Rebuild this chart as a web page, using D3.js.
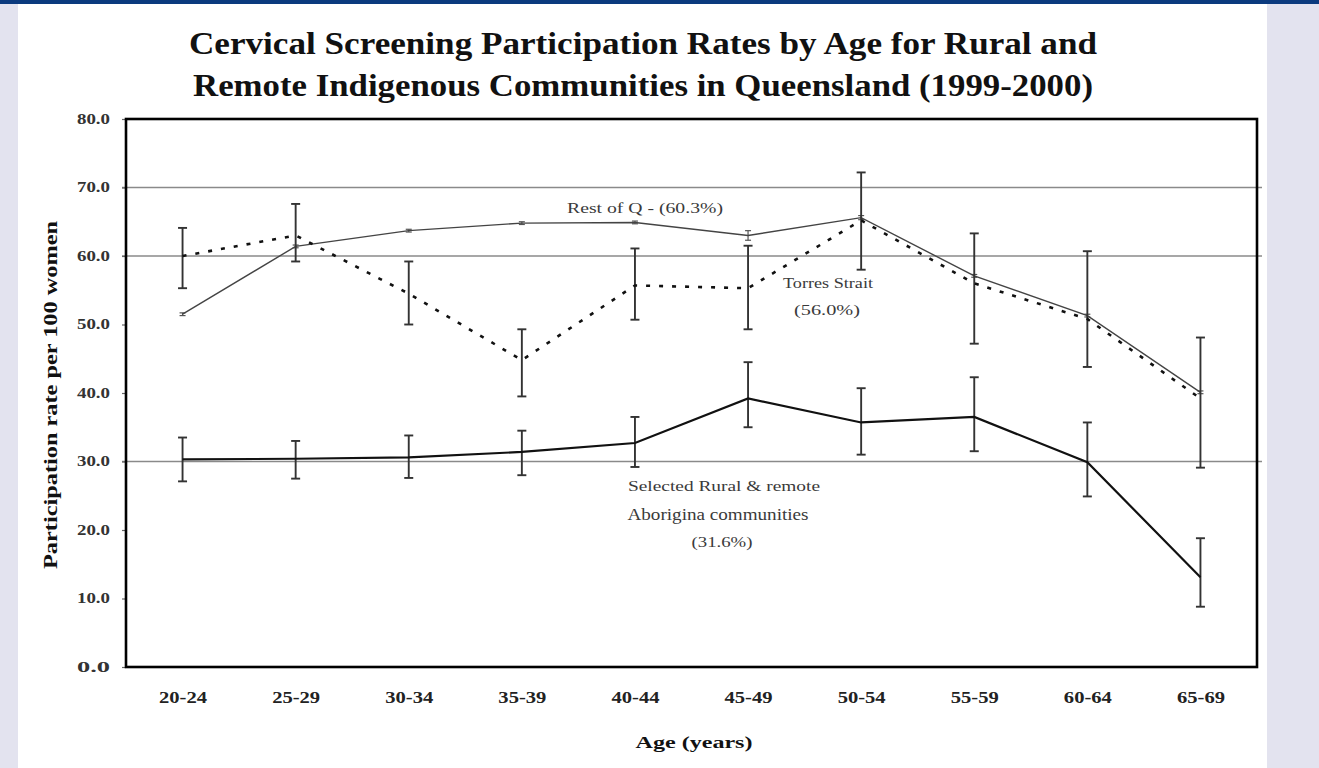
<!DOCTYPE html>
<html>
<head>
<meta charset="utf-8">
<script src="https://cdn.jsdelivr.net/npm/d3@7"></script>
<style>
  html, body { margin: 0; padding: 0; background: #e3e3ef; }
  svg { display: block; }
  text { font-family: "Liberation Serif", "Times New Roman", serif; }
</style>
</head>
<body>
<svg id="chart" width="1319" height="768"></svg>
<script>
// Age groups along the x axis
const ageGroups = ["20-24", "25-29", "30-34", "35-39", "40-44", "45-49", "50-54", "55-59", "60-64", "65-69"];

// Y axis ticks and the horizontal reference lines
const yTicks = [0, 10, 20, 30, 40, 50, 60, 70, 80];
const gridValues = [30, 60, 70];

// Rest of Queensland participation rate (per 100 women) with confidence limits
const restOfQ     = [51.5, 61.4, 63.7, 64.8, 64.9, 63.0, 65.6, 57.1, 51.3, 40.1];
const restOfQLow  = [51.3, 61.2, 63.5, 64.6, 64.7, 62.3, 65.3, 56.9, 51.1, 39.9];
const restOfQHigh = [51.7, 61.6, 63.9, 65.0, 65.1, 63.7, 65.9, 57.3, 51.5, 40.3];

// Torres Strait communities
const torresStrait = [60.0, 63.0, 54.5, 44.8, 55.7, 55.3, 65.2, 56.0, 50.8, 39.2];
const torresLow    = [55.3, 59.2, 50.0, 39.5, 50.7, 49.3, 58.0, 47.2, 43.8, 29.1];
const torresHigh   = [64.1, 67.6, 59.2, 49.3, 61.1, 61.5, 72.2, 63.3, 60.7, 48.1];

// Selected rural & remote Aboriginal communities
const aboriginal     = [30.3, 30.4, 30.6, 31.4, 32.7, 39.2, 35.7, 36.5, 29.9, 13.1];
const aboriginalLow  = [27.1, 27.5, 27.6, 28.0, 29.2, 35.0, 31.0, 31.5, 24.9, 8.8];
const aboriginalHigh = [33.5, 33.0, 33.8, 34.5, 36.5, 44.5, 40.7, 42.3, 35.7, 18.8];

const titleLines = [
  "Cervical Screening Participation Rates by Age for Rural and",
  "Remote Indigenous Communities in Queensland (1999-2000)"
];
const yAxisTitle = "Participation rate per 100 women";
const xAxisTitle = "Age (years)";

// ---- layout ----
const W = 1319, H = 768;
const plot = { left: 126, right: 1257, top: 119, bottom: 667 };

const svg = d3.select("#chart");

// page background: navy strip on top, white panel in the middle
svg.append("rect").attr("x", 0).attr("y", 0).attr("width", W).attr("height", H).attr("fill", "#e3e3ef");
svg.append("rect").attr("x", 18).attr("y", 0).attr("width", 1249).attr("height", H).attr("fill", "#ffffff");
svg.append("rect").attr("x", 0).attr("y", 0).attr("width", W).attr("height", 4).attr("fill", "#0b3a7e");

const x = d3.scalePoint().domain(ageGroups).range([plot.left, plot.right]).padding(0.5);
const y = d3.scaleLinear().domain([0, 80]).range([plot.bottom, plot.top]);

// Stretch a text element to a given width
function fit(sel, w) {
  sel.attr("textLength", w).attr("lengthAdjust", "spacingAndGlyphs");
  return sel;
}

// ---- title ----
const titleLayout = [{ y: 54, w: 908 }, { y: 96, w: 900 }];
titleLines.forEach((t, i) => {
  fit(svg.append("text")
    .attr("x", 643).attr("y", titleLayout[i].y)
    .attr("text-anchor", "middle")
    .attr("font-size", 31).attr("font-weight", "bold").attr("fill", "#111")
    .text(t), titleLayout[i].w);
});

// ---- reference lines ----
svg.append("g").selectAll("line").data(gridValues).join("line")
  .attr("x1", plot.left - 4).attr("x2", plot.right + 5)
  .attr("y1", d => y(d)).attr("y2", d => y(d))
  .attr("stroke", "#8a8a8a").attr("stroke-width", 1.6);

// ---- y axis ----
const yAxis = svg.append("g")
  .attr("transform", `translate(${plot.left},0)`)
  .call(d3.axisLeft(y).tickValues(yTicks).tickFormat(d3.format(".1f")).tickSize(4).tickPadding(12));
yAxis.select(".domain").remove();
yAxis.selectAll(".tick line").attr("stroke", "#666").attr("stroke-width", 1.2);
yAxis.selectAll(".tick text")
  .attr("font-family", "Liberation Serif, serif")
  .attr("font-size", 14).attr("font-weight", "bold").attr("fill", "#333")
  .each(function () { fit(d3.select(this), 33); });

// ---- x axis ----
const xAxis = svg.append("g")
  .attr("transform", `translate(0,${plot.bottom})`)
  .call(d3.axisBottom(x).tickSize(0).tickPadding(25));
xAxis.select(".domain").remove();
xAxis.selectAll(".tick text")
  .attr("font-family", "Liberation Serif, serif")
  .attr("font-size", 16).attr("font-weight", "bold").attr("fill", "#222")
  .each(function () { fit(d3.select(this), 48); });

// ---- plot frame ----
svg.append("rect")
  .attr("x", plot.left).attr("y", plot.top)
  .attr("width", plot.right - plot.left).attr("height", plot.bottom - plot.top)
  .attr("fill", "none").attr("stroke", "#000").attr("stroke-width", 2.6);

// ---- axis titles ----
fit(svg.append("text")
  .attr("transform", `translate(50,395) rotate(-90)`)
  .attr("text-anchor", "middle").attr("dominant-baseline", "central")
  .attr("font-size", 19).attr("font-weight", "bold").attr("fill", "#111")
  .text(yAxisTitle), 348);

fit(svg.append("text")
  .attr("x", 694).attr("y", 748)
  .attr("text-anchor", "middle")
  .attr("font-size", 16).attr("font-weight", "bold").attr("fill", "#111")
  .text(xAxisTitle), 117);

// ---- series ----
function rows(vals, lo, hi) {
  return ageGroups.map((g, i) => ({ g, v: vals[i], lo: lo[i], hi: hi[i] }));
}
const series = [
  { name: "rest", data: rows(restOfQ, restOfQLow, restOfQHigh), stroke: "#444", width: 1.4, dash: null, bars: "#555", barW: 1.2, cap: 3 },
  { name: "torres", data: rows(torresStrait, torresLow, torresHigh), stroke: "#111", width: 2.6, dash: "4 9", bars: "#333", barW: 1.9, cap: 4.5 },
  { name: "aboriginal", data: rows(aboriginal, aboriginalLow, aboriginalHigh), stroke: "#111", width: 2.2, dash: null, bars: "#333", barW: 1.9, cap: 4.5 }
];

const line = d3.line().x(d => x(d.g)).y(d => y(d.v));

series.forEach(s => {
  const g = svg.append("g").attr("class", "series-" + s.name);
  // confidence interval bars
  const eb = g.append("g").selectAll("g").data(s.data).join("g")
    .attr("stroke", s.bars).attr("stroke-width", s.barW);
  eb.append("line").attr("x1", d => x(d.g)).attr("x2", d => x(d.g))
    .attr("y1", d => y(d.lo)).attr("y2", d => y(d.hi));
  eb.append("line").attr("x1", d => x(d.g) - s.cap).attr("x2", d => x(d.g) + s.cap)
    .attr("y1", d => y(d.lo)).attr("y2", d => y(d.lo));
  eb.append("line").attr("x1", d => x(d.g) - s.cap).attr("x2", d => x(d.g) + s.cap)
    .attr("y1", d => y(d.hi)).attr("y2", d => y(d.hi));
  // the rate line
  g.append("path").datum(s.data)
    .attr("d", line).attr("fill", "none")
    .attr("stroke", s.stroke).attr("stroke-width", s.width)
    .attr("stroke-dasharray", s.dash);
});

// ---- series labels ----
const seriesLabels = [
  { text: "Rest of Q - (60.3%)", x: 645, y: 213, w: 156, size: 15 },
  { text: "Torres Strait", x: 828, y: 288, w: 90, size: 15 },
  { text: "(56.0%)", x: 827, y: 315, w: 66, size: 15 },
  { text: "Selected Rural & remote", x: 724, y: 491, w: 192, size: 14 },
  { text: "Aborigina communities", x: 718, y: 520, w: 181, size: 16 },
  { text: "(31.6%)", x: 722, y: 547, w: 61, size: 15 }
];
svg.append("g").selectAll("text").data(seriesLabels).join("text")
  .attr("x", d => d.x).attr("y", d => d.y)
  .attr("text-anchor", "middle")
  .attr("font-size", d => d.size).attr("fill", "#3a3a3a")
  .text(d => d.text)
  .attr("textLength", d => d.w).attr("lengthAdjust", "spacingAndGlyphs");
</script>
</body>
</html>
